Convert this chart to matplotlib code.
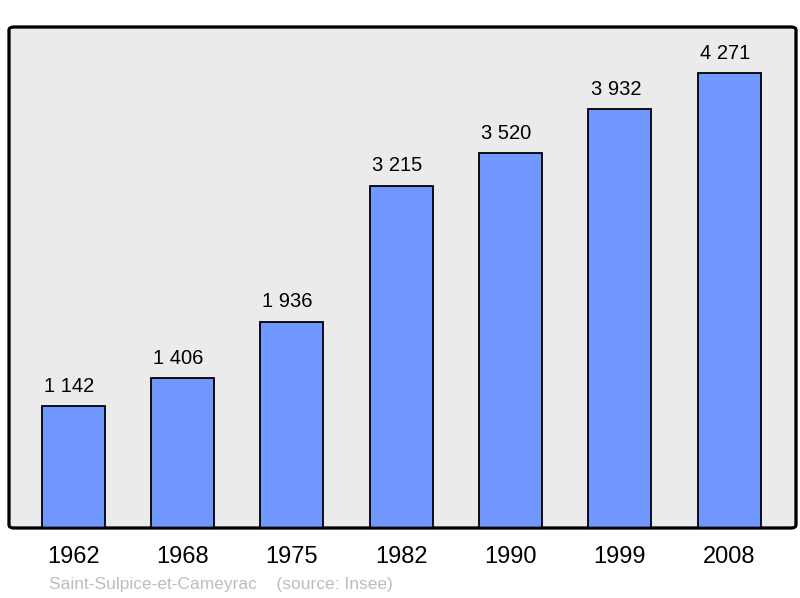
import matplotlib.pyplot as plt
from matplotlib.patches import FancyBboxPatch

years = ['1962', '1968', '1975', '1982', '1990', '1999', '2008']
population = [1142, 1406, 1936, 3215, 3520, 3932, 4271]
value_labels = ['1 142', '1 406', '1 936', '3 215', '3 520', '3 932', '4 271']

plt.rcParams['font.family'] = ['Liberation Sans', 'DejaVu Sans']

fig = plt.figure(figsize=(8, 5.98), dpi=100)
# axes box in pixels: left 9, right 796, top 27, bottom 528
ax = fig.add_axes([9 / 800, 1 - 528 / 598, 787 / 800, 501 / 598])
ax.set_facecolor('none')

x = list(range(len(years)))
ax.bar(x, population, width=0.577, color='#7098ff', edgecolor='black', linewidth=1.3, zorder=2)
for xi, v, lab in zip(x, population, value_labels):
    ax.annotate(lab, (xi, v), xytext=(-3, 10.5), textcoords='offset points',
                ha='center', va='baseline', fontsize=14.5, color='black')

ax.set_xlim(-0.587, 6.61)
ax.set_ylim(0, 4705)
ax.set_yticks([])
ax.set_xticks(x)
ax.set_xticklabels(years, fontsize=17)
ax.tick_params(axis='x', length=0, pad=13)
for s in ax.spines.values():
    s.set_visible(False)

# rounded frame + background
frame = FancyBboxPatch((0, 0), 1, 1, boxstyle='round,pad=0,rounding_size=0.006',
                       transform=ax.transAxes, facecolor='#ebebeb', edgecolor='black',
                       linewidth=2, zorder=0, clip_on=False)
ax.add_patch(frame)
frame2 = FancyBboxPatch((0, 0), 1, 1, boxstyle='round,pad=0,rounding_size=0.006',
                        transform=ax.transAxes, facecolor='none', edgecolor='black',
                        linewidth=2, zorder=3, clip_on=False)
ax.add_patch(frame2)

fig.text(49 / 800, 1 - 584 / 598, 'Saint-Sulpice-et-Cameyrac    (source: Insee)',
         fontsize=12.5, color='#bdbdbd', ha='left', va='center')

fig.savefig('out.png', dpi=100)
